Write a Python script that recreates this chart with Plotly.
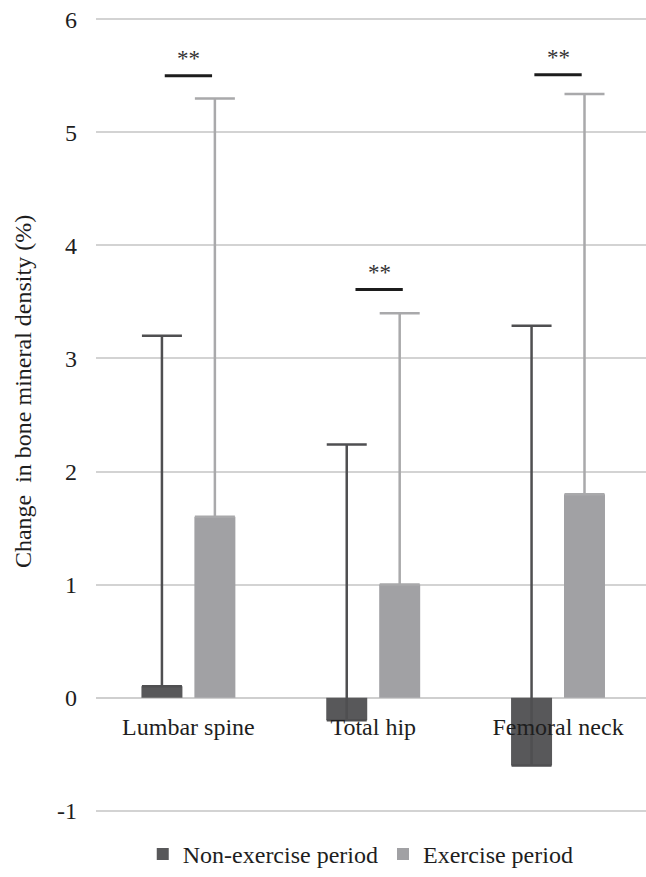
import plotly.graph_objects as go

categories = ["Lumbar spine", "Total hip", "Femoral neck"]
non_exercise = [0.1, -0.2, -0.6]
exercise = [1.6, 1.0, 1.8]
non_exercise_err = [3.1, 2.44, 3.89]
exercise_err = [3.7, 2.4, 3.54]
y_ticks = [-1, 0, 1, 2, 3, 4, 5, 6]
y_tick_labels = ["-1", "0", "1", "2", "3", "4", "5", "6"]
sig_x = [0.0, 1.032, 2.0]
sig_y = [5.50, 3.61, 5.51]
sig_labels = ["**", "**", "**"]

FONT = "Liberation Serif"
DARK = "#58585a"
LIGHT = "#a1a1a4"

fig = go.Figure()
fig.add_trace(go.Bar(
    x=categories, y=non_exercise, name="Non-exercise period",
    marker=dict(color=DARK, line=dict(width=0)),
    error_y=dict(type="data", symmetric=False, array=non_exercise_err,
                 arrayminus=[0, 0, 0], color="#4f4f51", thickness=2.5, width=20),
))
fig.add_trace(go.Bar(
    x=categories, y=exercise, name="Exercise period",
    marker=dict(color=LIGHT, line=dict(width=0)),
    error_y=dict(type="data", symmetric=False, array=exercise_err,
                 arrayminus=[0, 0, 0], color="#a9a9ab", thickness=2.5, width=20),
))

for xs, ys, lab in zip(sig_x, sig_y, sig_labels):
    fig.add_shape(type="line", xref="x", yref="y",
                  x0=xs - 0.128, x1=xs + 0.128, y0=ys, y1=ys,
                  line=dict(color="#1c1c1c", width=3))
    fig.add_annotation(x=xs, y=ys + 0.025, xref="x", yref="y", text=lab,
                       showarrow=False, yanchor="bottom",
                       font=dict(family=FONT, size=23, color="#333333"))

ymin, ymax = -1.02, 6.02
zero_pos = (0 - ymin) / (ymax - ymin)

fig.add_annotation(xref="paper", yref="y", x=-0.133, y=2.71, xanchor="center",
                   yanchor="middle",
                   text="Change\u00a0 in bone mineral density (%)",
                   textangle=-90, showarrow=False,
                   font=dict(family=FONT, size=24, color="#1e1e1e"))

fig.update_layout(
    width=646, height=877, autosize=False,
    margin=dict(l=96, r=0, t=17, b=52),
    paper_bgcolor="white", plot_bgcolor="white",
    barmode="group", bargap=0.427, bargroupgap=0.226,
    font=dict(family=FONT, size=24, color="#1e1e1e"),
    showlegend=True,
    legend=dict(orientation="h", x=0.085, xanchor="left", y=-0.052, yanchor="middle",
                font=dict(family=FONT, size=24, color="#1e1e1e"),
                bgcolor="rgba(0,0,0,0)"),
    xaxis=dict(range=[-0.5, 2.476], showgrid=False, zeroline=False, showline=False,
               ticks="", anchor="free", position=zero_pos, ticklabelstandoff=12,
               automargin=False,
               tickfont=dict(family=FONT, size=24, color="#1e1e1e")),
    yaxis=dict(range=[ymin, ymax], tickvals=y_ticks, ticktext=y_tick_labels,
               showgrid=True, automargin=False,
               gridcolor="#d3d3d3", gridwidth=1.5, zeroline=True,
               zerolinecolor="#cfcfcf", zerolinewidth=2, showline=False,
               ticks="", ticklabelstandoff=18,
               tickfont=dict(family=FONT, size=24, color="#1e1e1e")),
)

fig.write_html(
    "out.html",
    config={"displayModeBar": False},
    post_script="document.body.style.margin='0';document.body.style.overflow='hidden';",
)
